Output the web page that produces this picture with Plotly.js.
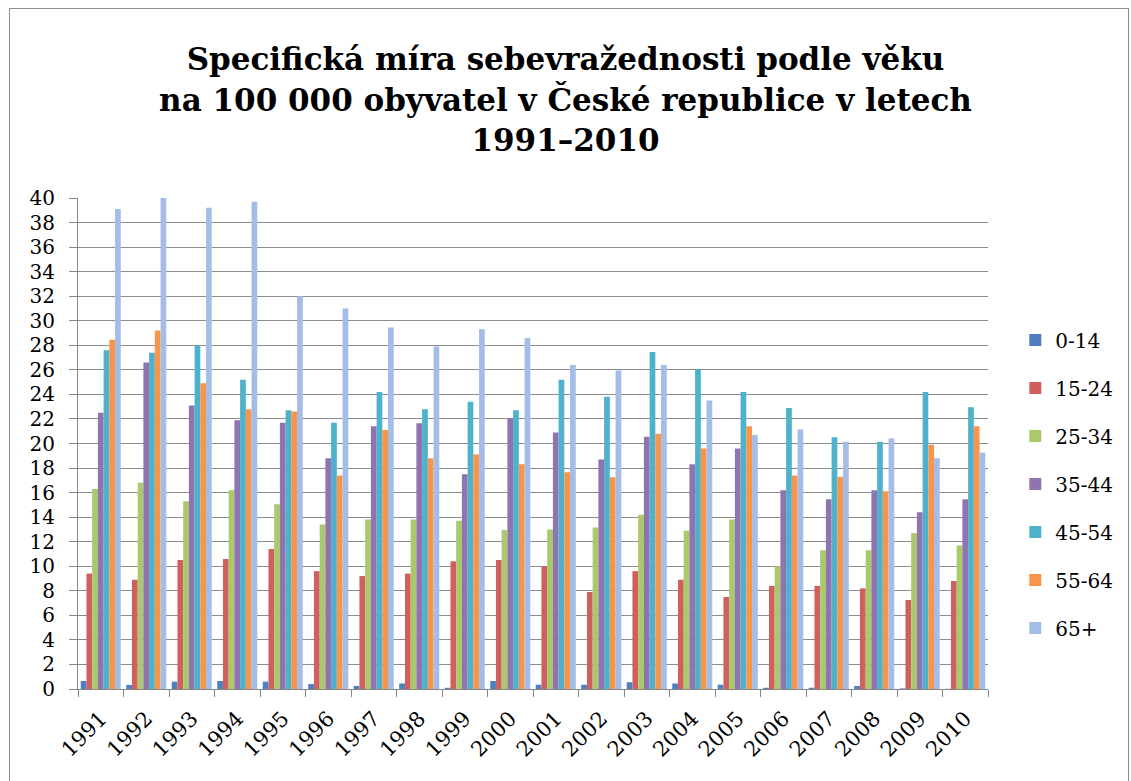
<!DOCTYPE html>
<html>
<head>
<meta charset="utf-8">
<script src="https://cdn.plot.ly/plotly-3.0.1.min.js"></script>
<style>
html,body{margin:0;padding:0;background:#fff;}
#frame{position:absolute;left:9px;top:8px;width:1120px;height:790px;border:1px solid #8c8c8c;box-sizing:border-box;}
#chart{position:absolute;left:0;top:0;width:1131px;height:781px;}
</style>
</head>
<body>
<div id="frame"></div>
<div id="chart"></div>
<script>
const years = ["1991","1992","1993","1994","1995","1996","1997","1998","1999","2000","2001","2002","2003","2004","2005","2006","2007","2008","2009","2010"];
const age0_14  = [0.65,0.33,0.6,0.65,0.6,0.4,0.25,0.45,0.1,0.65,0.35,0.35,0.55,0.45,0.35,0.1,0.1,0.25,0.05,0.02];
const age15_24 = [9.4,8.9,10.5,10.6,11.4,9.6,9.2,9.4,10.4,10.5,10.0,7.9,9.6,8.9,7.5,8.4,8.4,8.2,7.25,8.8];
const age25_34 = [16.3,16.8,15.3,16.2,15.05,13.4,13.8,13.8,13.7,12.95,13.0,13.15,14.2,12.9,13.8,10.0,11.3,11.3,12.7,11.7];
const age35_44 = [22.5,26.6,23.1,21.9,21.7,18.8,21.4,21.65,17.5,22.05,20.9,18.7,20.55,18.3,19.6,16.2,15.45,16.2,14.4,15.45];
const age45_54 = [27.6,27.4,28.0,25.2,22.7,21.7,24.2,22.8,23.4,22.7,25.2,23.8,27.45,26.05,24.2,22.9,20.5,20.15,24.2,22.95];
const age55_64 = [28.45,29.2,24.9,22.8,22.6,17.4,21.1,18.8,19.1,18.3,17.65,17.25,20.8,19.6,21.4,17.4,17.3,16.1,19.9,21.4];
const age65p   = [39.1,40.0,39.2,39.7,32.0,31.0,29.45,27.9,29.3,28.6,26.4,25.95,26.4,23.5,20.7,21.15,20.15,20.4,18.8,19.25];
const seriesNames = ["0-14","15-24","25-34","35-44","45-54","55-64","65+"];
const seriesData = [age0_14, age15_24, age25_34, age35_44, age45_54, age55_64, age65p];
const colors = ["#4f7fc0","#d0605d","#a9c96c","#8f74b0","#4fb2cc","#f7964a","#a3bde6"];
const yTicks = [0,2,4,6,8,10,12,14,16,18,20,22,24,26,28,30,32,34,36,38,40];

const serif = "'DejaVu Serif', serif";
const traces = seriesNames.map((n,i)=>({
  type:"bar", name:n, x:years, y:seriesData[i],
  marker:{color:colors[i], line:{width:0}},
  legendgroup:"g"+i
}));

const layout = {
  width:1131, height:781,
  paper_bgcolor:"rgba(0,0,0,0)", plot_bgcolor:"rgba(0,0,0,0)",
  margin:{l:78,r:143,t:198,b:92},
  title:{text:"<b>Specifická míra sebevražednosti podle věku<br>na 100 000 obyvatel v České republice v letech<br>1991–2010</b>",
    font:{family:serif, size:31, color:"#000"}, x:0.5, xanchor:"center", yref:"container", y:0.91, yanchor:"middle"},
  barmode:"group", bargap:0.12, bargroupgap:0,
  xaxis:{type:"category", tickangle:-45, tickfont:{family:serif,size:21,color:"#000"},
    showline:true, linecolor:"#868686", linewidth:1, ticks:"outside", ticklen:7, tickcolor:"#868686",
    tickson:"boundaries", showgrid:false, ticklabelstandoff:8},
  yaxis:{range:[0,40], tickvals:yTicks, ticktext:yTicks.map(String), tickfont:{family:serif,size:20,color:"#000"},
    showgrid:true, gridcolor:"#8c8c8c", gridwidth:1, showline:true, linecolor:"#868686",
    ticks:"outside", ticklen:8, tickcolor:"#868686", zeroline:false, ticklabelstandoff:10},
  legend:{x:1.03, xanchor:"left", y:0.4175, yanchor:"middle", font:{family:serif,size:20,color:"#000"},
    tracegroupgap:19, itemwidth:30, traceorder:"grouped"},
  showlegend:true
};
Plotly.newPlot("chart", traces, layout, {displayModeBar:false, staticPlot:true});
</script>
</body>
</html>
